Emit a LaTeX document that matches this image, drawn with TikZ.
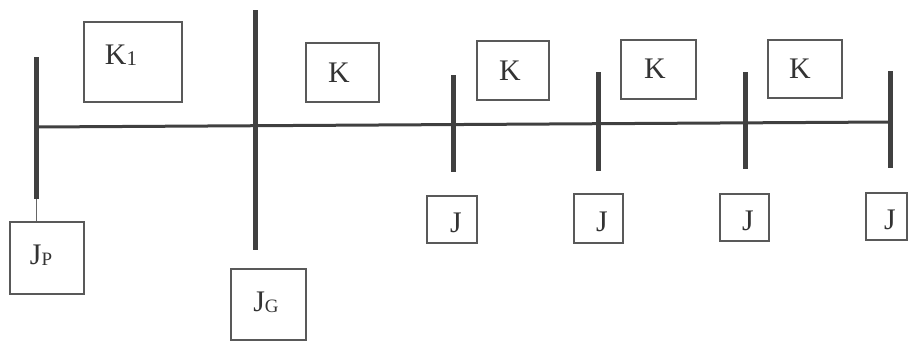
\documentclass[tikz,border=0pt]{standalone}
\usepackage{fontspec}
\setmainfont{Liberation Serif}
\begin{document}
\begin{tikzpicture}[x=1bp,y=-1bp,
  inertia/.style={draw=black!65,line width=1.4bp,fill=none,inner sep=0pt},
  lbl/.style={text=black!80,inner sep=0pt,font=\fontsize{30}{30}\selectfont},
  sub/.style={font=\fontsize{20}{20}\selectfont},
  disc/.style={draw=black!75,line width=5bp},
  shaft/.style={draw=black!75,line width=3bp},
  tie/.style={draw=black!60,line width=0.8bp}]
\useasboundingbox (0,0) rectangle (908,341);

% shaft between the discs
\coordinate (s0) at (36,127);
\coordinate (s5) at (890,122);
\draw[shaft] (s0) -- (s5);

% discs (vertical bars)
\coordinate (pTop) at (36,57);   \coordinate (pBot) at (36,199);
\coordinate (gTop) at (255,10);  \coordinate (gBot) at (255,250);
\coordinate (d1Top) at (453,75); \coordinate (d1Bot) at (453,172);
\coordinate (d2Top) at (598,72); \coordinate (d2Bot) at (598,171);
\coordinate (d3Top) at (745,72); \coordinate (d3Bot) at (745,169);
\coordinate (d4Top) at (890,71); \coordinate (d4Bot) at (890,168);
\foreach \d in {p,g,d1,d2,d3,d4} \draw[disc] (\d Top) -- (\d Bot);

% stiffness boxes
\node[inertia,minimum width=98bp,minimum height=80bp] (k1) at (133,62) {};
\node[inertia,minimum width=73bp,minimum height=59bp] (ka) at (342.5,72.5) {};
\node[inertia,minimum width=72bp,minimum height=59bp] (kb) at (513,70.5) {};
\node[inertia,minimum width=75bp,minimum height=59bp] (kc) at (658.5,69.5) {};
\node[inertia,minimum width=74bp,minimum height=58bp] (kd) at (805,69) {};

% inertia boxes
\node[inertia,minimum width=74bp,minimum height=72bp] (jp) at (47,258) {};
\node[inertia,minimum width=75bp,minimum height=71bp] (jg) at (268.5,304.5) {};
\node[inertia,minimum width=50bp,minimum height=47bp] (ja) at (452,219.5) {};
\node[inertia,minimum width=49bp,minimum height=49bp] (jb) at (598.5,218.5) {};
\node[inertia,minimum width=49bp,minimum height=47bp] (jc) at (744.5,217.5) {};
\node[inertia,minimum width=41bp,minimum height=47bp] (jd) at (886.5,216.5) {};

% thin link from the pump disc to its box
\draw[tie] (pBot) -- (jp.north -| pBot);

% labels
\node[lbl] (k1t) at (121,55) {K\raisebox{-1bp}{\fontsize{21}{21}\selectfont 1}};
\node[lbl] at (339,73) {K};
\node[lbl] at (510,71) {K};
\node[lbl] at (655,69) {K};
\node[lbl] at (800,69) {K};
\node[lbl] at (41,255) {J\raisebox{-1bp}{\fontsize{19}{19}\selectfont P}};
\node[lbl] at (266,302) {J\raisebox{-1bp}{\fontsize{19}{19}\selectfont G}};
\node[lbl] at (456,223) {J};
\node[lbl] at (602,222) {J};
\node[lbl] at (748,221) {J};
\node[lbl] at (890,220) {J};
\end{tikzpicture}
\end{document}
